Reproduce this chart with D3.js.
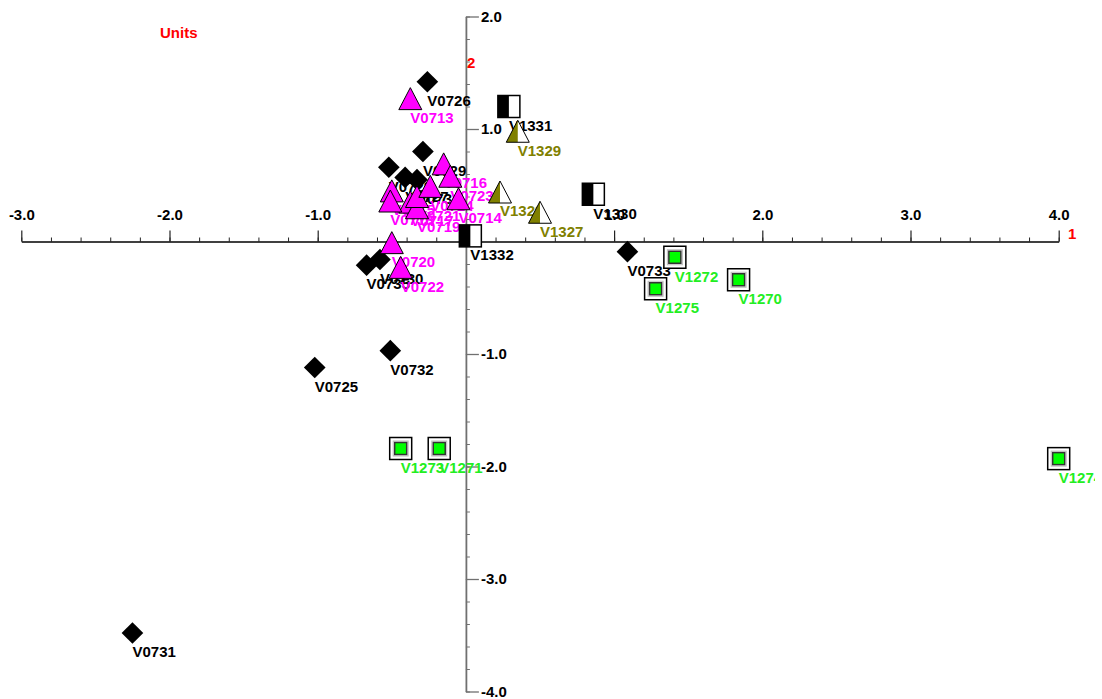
<!DOCTYPE html>
<html>
<head>
<meta charset="utf-8">
<script src="https://cdn.jsdelivr.net/npm/d3@7"></script>
<style>
body { margin: 0; background: #fff; }
text { font-family: "Liberation Sans", Arial, sans-serif; font-weight: bold; font-size: 15px; }
</style>
</head>
<body>
<div id="chart"></div>
<script>
// black diamonds
var diaNames = ["V0725","V0726","V0727","V0728","V0729","V0730","V0731","V0732","V0733","V0734","V0735"];
var diaX = [-1.02,-0.26,-0.41,-0.52,-0.29,-0.58,-2.25,-0.51,1.09,-0.33,-0.67];
var diaY = [-1.12,1.42,0.57,0.66,0.80,-0.16,-3.48,-0.97,-0.09,0.55,-0.21];

// magenta triangles
var triNames = ["V0713","V0714","V0715","V0716","V0717","V0718","V0719","V0720","V0721","V0722","V0723","V0724"];
var triX = [-0.375,-0.05,-0.50,-0.15,-0.375,-0.51,-0.33,-0.50,-0.33,-0.44,-0.105,-0.24];
var triY = [1.27,0.38,0.45,0.69,0.35,0.36,0.30,-0.01,0.40,-0.23,0.58,0.49];

// olive half triangles
var oliNames = ["V1327","V1328","V1329"];
var oliX = [0.50,0.23,0.35];
var oliY = [0.26,0.44,0.98];

// black/white half squares
var halfNames = ["V1330","V1331","V1332"];
var halfX = [0.86,0.29,0.03];
var halfY = [0.42,1.20,0.05];

// green boxed squares
var grnNames = ["V1270","V1271","V1272","V1273","V1274","V1275"];
var grnX = [1.84,-0.18,1.41,-0.44,4.00,1.28];
var grnY = [-0.34,-1.84,-0.14,-1.84,-1.93,-0.42];

// axis ticks
var xMajor = [-3,-2,-1,1,2,3,4];
var yMajor = [-4,-3,-2,-1,1,2];

var w = 1102, h = 699;

var svg = d3.select("#chart")
            .append("svg")
            .attr("width", w)
            .attr("height", h);

//plot area ends a little before the svg edge, labels get cut there
svg.append("clipPath").attr("id","plotClip")
   .append("rect").attr("x",0).attr("y",0).attr("width",1095).attr("height",h);

var x = d3.scaleLinear().domain([-3,4]).range([21.3,1058.7]);
var y = d3.scaleLinear().domain([-4,2]).range([691.5,16.5]);

//x axis, minor then major
var xMinor = d3.range(-15,21).map(function(d){ return d/5; });
var gxMin = svg.append("g")
               .attr("transform","translate(0,"+y(0)+")")
               .call(d3.axisTop(x).tickValues(xMinor).tickSize(4).tickSizeOuter(0).tickFormat(""));
var gx = svg.append("g")
            .attr("transform","translate(0,"+y(0)+")")
            .call(d3.axisTop(x).tickValues(xMajor).tickSize(11).tickSizeOuter(0).tickPadding(10.5)
                  .tickFormat(function(d){ return d.toFixed(1); }));
gxMin.select(".domain").remove();
gx.select(".domain").attr("stroke","#000").attr("stroke-width",1.6);
gxMin.selectAll(".tick line").attr("stroke","#222");
gx.selectAll(".tick line").attr("stroke","#222").attr("stroke-width",1.2);
gx.selectAll(".tick text").attr("fill","#000");

//y axis
var yMinor = d3.range(-20,11).map(function(d){ return d/5; });
var gyMin = svg.append("g")
               .attr("transform","translate("+x(0)+",0)")
               .call(d3.axisRight(y).tickValues(yMinor).tickSize(4).tickSizeOuter(0).tickFormat(""));
var gy = svg.append("g")
            .attr("transform","translate("+x(0)+",0)")
            .call(d3.axisRight(y).tickValues(yMajor).tickSize(13).tickSizeOuter(0).tickPadding(2)
                  .tickFormat(function(d){ return d.toFixed(1); }));
gyMin.select(".domain").remove();
gy.select(".domain").attr("stroke","#707070").attr("stroke-width",1.8);
gyMin.selectAll(".tick line").attr("stroke","#707070");
gy.selectAll(".tick line").attr("stroke","#707070").attr("stroke-width",1.3);
gy.selectAll(".tick text").attr("fill","#000");

//axis names
svg.append("text").attr("x",1068).attr("y",239).attr("fill","#ff0000").text("1");
svg.append("text").attr("x",467).attr("y",68).attr("fill","#ff0000").text("2");
svg.append("text").attr("x",160).attr("y",38).attr("fill","#ff0000").text("Units");

var plot = svg.append("g").attr("clip-path","url(#plotClip)");

//labels go under the markers
function addLabels(names, xs, ys, color){
  plot.append("g").selectAll("text")
     .data(names)
     .enter()
     .append("text")
     .attr("x", function(d,i){ return x(xs[i]); })
     .attr("y", function(d,i){ return y(ys[i])+19; })
     .attr("dy","0.35em")
     .attr("fill", color)
     .text(function(d){ return d; });
}
addLabels(diaNames, diaX, diaY, "#000");
addLabels(halfNames, halfX, halfY, "#000");
addLabels(triNames, triX, triY, "#ff00ff");
addLabels(oliNames, oliX, oliY, "#808000");
addLabels(grnNames, grnX, grnY, "#22ee22");

function place(xs, ys){
  return function(d,i){ return "translate("+x(xs[i])+","+y(ys[i])+")"; };
}

//diamonds
plot.append("g").selectAll("path")
   .data(diaNames)
   .enter()
   .append("path")
   .attr("transform", function(d,i){ return place(diaX,diaY)(d,i)+" rotate(45)"; })
   .attr("d", d3.symbol(d3.symbolSquare, 235))
   .attr("fill","#000");

//half squares
var hs = plot.append("g").selectAll("g")
            .data(halfNames)
            .enter()
            .append("g")
            .attr("transform", place(halfX, halfY));
hs.append("rect").attr("x",-11).attr("y",-11).attr("width",22).attr("height",22).attr("fill","#fff");
hs.append("rect").attr("x",-11).attr("y",-11).attr("width",11).attr("height",22).attr("fill","#000");
hs.append("rect").attr("x",-11).attr("y",-11).attr("width",22).attr("height",22)
  .attr("fill","none").attr("stroke","#000").attr("stroke-width",1.5);

//green squares
var gs = plot.append("g").selectAll("g")
            .data(grnNames)
            .enter()
            .append("g")
            .attr("transform", place(grnX, grnY));
gs.append("rect").attr("x",-11).attr("y",-11).attr("width",22).attr("height",22)
  .attr("fill","#fff").attr("stroke","#000").attr("stroke-width",1.5);
gs.append("rect").attr("x",-7.5).attr("y",-7.5).attr("width",15).attr("height",15)
  .attr("fill","none").attr("stroke","#bbb").attr("stroke-width",1);
gs.append("rect").attr("x",-6).attr("y",-6).attr("width",12).attr("height",12)
  .attr("fill","#00ff00").attr("stroke","#333").attr("stroke-width",1.5);

//magenta triangles
var triPath = "M0,-11L11.5,11L-11.5,11Z";
plot.append("g").selectAll("path")
   .data(triNames)
   .enter()
   .append("path")
   .attr("transform", place(triX, triY))
   .attr("d", triPath)
   .attr("fill","#ff00ff")
   .attr("stroke","#000")
   .attr("stroke-width",1);

//olive half triangles
var ot = plot.append("g").selectAll("g")
            .data(oliNames)
            .enter()
            .append("g")
            .attr("transform", place(oliX, oliY));
ot.append("path").attr("d", triPath).attr("fill","#fff");
ot.append("path").attr("d","M0,-11L0,11L-11.5,11Z").attr("fill","#808000");
ot.append("path").attr("d", triPath).attr("fill","none").attr("stroke","#000").attr("stroke-width",1);
</script>
</body>
</html>
